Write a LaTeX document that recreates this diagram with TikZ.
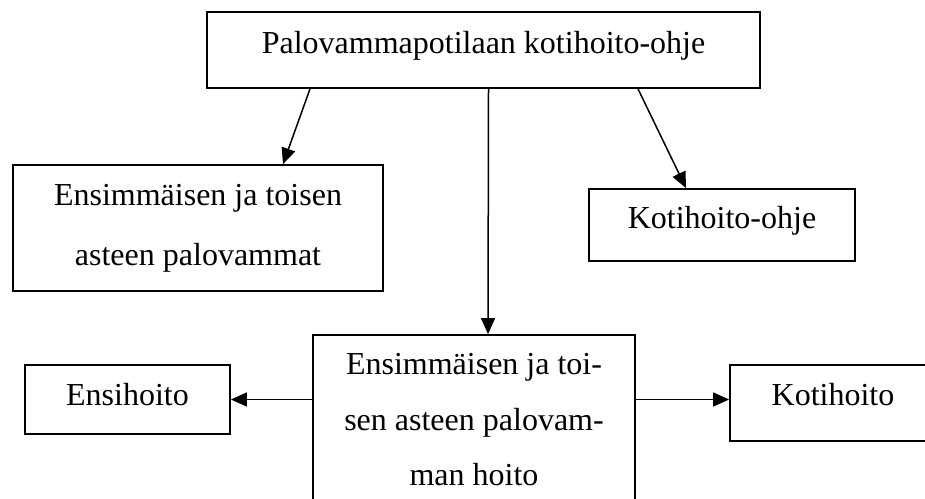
\documentclass[tikz,border=0pt]{standalone}
\usepackage{fontspec}
\setmainfont{Liberation Serif}
\usetikzlibrary{arrows.meta}
\begin{document}
\begin{tikzpicture}[x=1pt,y=-1pt,
  box/.style={draw, line width=1.8pt, rectangle, inner sep=0pt},
  txt/.style={anchor=base, inner sep=0pt, font=\fontsize{32}{38}\selectfont},
  arr/.style={line width=1.5pt, -{Triangle[length=16pt,width=14pt]}}]
\useasboundingbox (0,0) rectangle (925,498);
\clip (0,0) rectangle (925,498);
\fill[white] (0,0) rectangle (925,498);
% boxes
\node[box, minimum width=553pt, minimum height=76pt] (top) at (483.5,50) {};
\node[box, minimum width=370pt, minimum height=126pt] (left) at (198,228) {};
\node[box, minimum width=266pt, minimum height=72pt] (right) at (722,225) {};
\node[box, minimum width=322pt, minimum height=185pt] (mid) at (474,427.5) {};
\node[box, minimum width=205pt, minimum height=69pt] (ensi) at (127.5,399.5) {};
\node[box, minimum width=215pt, minimum height=76pt] (koti) at (837.5,403) {};
% texts
\node[txt] (ttop) at (483.5,53) {Palovammapotilaan kotihoito-ohje};
\node[txt] (tleft1) at (198,205) {Ensimmäisen ja toisen};
\node[txt] (tleft2) at (198,265) {asteen palovammat};
\node[txt] (tright) at (722,228) {Kotihoito-ohje};
\node[txt] (tmid1) at (474,374) {Ensimmäisen ja toi-};
\node[txt] (tmid2) at (474,430) {sen asteen palovam-};
\node[txt] (tmid3) at (474,485) {man hoito};
\node[txt] (tensi) at (127.5,405) {Ensihoito};
\node[txt] (tkoti) at (833,405) {Kotihoito};
% connectors
\draw[arr] ([xshift=-173.5pt]top.south) -- ([xshift=85pt]left.north);
\draw[arr] ([xshift=154.5pt]top.south) -- ([xshift=-36pt]right.north);
\draw[arr] ([xshift=5pt]top.south) -- ([xshift=14pt]mid.north);
\draw[arr] (mid.west |- ensi.east) -- (ensi.east);
\draw[arr] (mid.east |- ensi.east) -- (koti.west |- ensi.east);
\end{tikzpicture}
\end{document}
